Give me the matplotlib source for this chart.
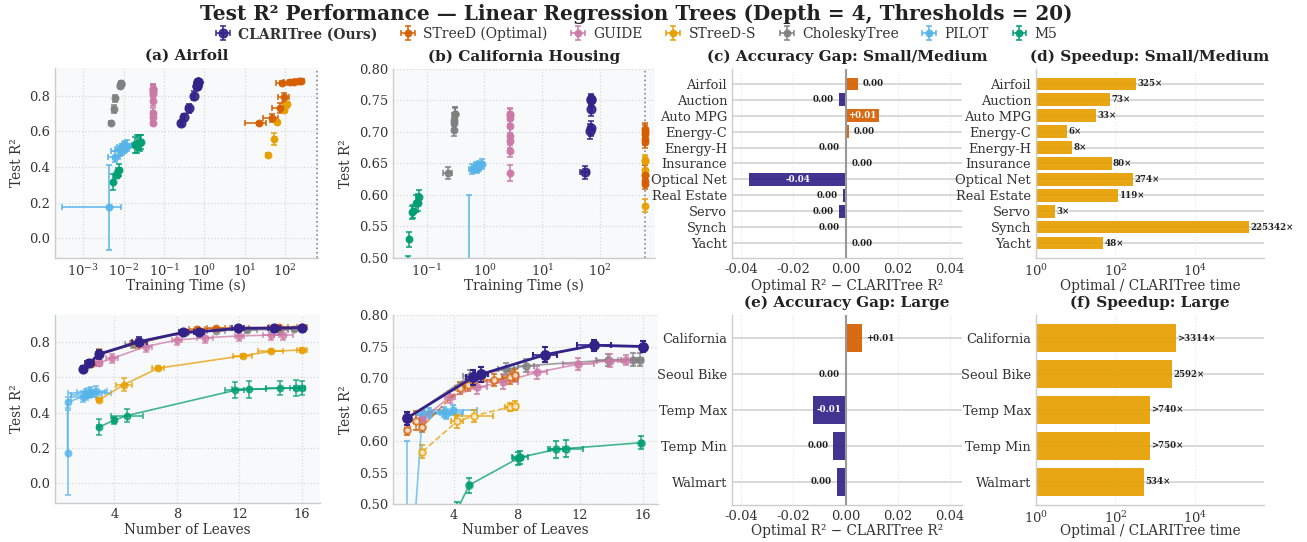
import matplotlib
matplotlib.use("Agg")
import matplotlib.pyplot as plt
import numpy as np
from matplotlib.ticker import FormatStrFormatter, LogLocator, NullLocator

plt.rcParams['font.family'] = ['DejaVu Serif']
plt.rcParams['mathtext.fontset'] = 'dejavuserif'

# ---------------- data ----------------
METHODS = ["CLARITree (Ours)", "STreeD (Optimal)", "GUIDE", "STreeD-S", "CholeskyTree", "PILOT", "M5"]
COLORS = ["#332288", "#D55E00", "#CC79A7", "#E69F00", "#808080", "#56B4E9", "#009E73"]
TIME_LIMIT = 600

# Airfoil: leaves (L, Le), test R2 (r2, r2e), training time (t, te)
af_clari = dict(L=[2, 2.4, 3, 5.6, 8.4, 9.4, 11.9, 14.2, 16],
                Le=[0.1, 0.3, 0.2, 0.5, 0.3, 0.3, 0.4, 0.4, 0.2],
                r2=[0.645, 0.678, 0.729, 0.80, 0.852, 0.855, 0.875, 0.876, 0.879],
                r2e=[0.015, 0.02, 0.025, 0.025, 0.01, 0.01, 0.008, 0.008, 0.008],
                t=[0.27, 0.31, 0.41, 0.54, 0.65, 0.66, 0.68, 0.70, 0.70],
                te=[0.02, 0.03, 0.05, 0.06, 0.05, 0.05, 0.05, 0.05, 0.05])
af_streed = dict(L=[2, 2.5, 3, 5.5, 9.3, 10.5, 12, 14.5, 16],
                 Le=[0.1, 0.3, 0.2, 0.5, 0.5, 0.6, 0.6, 0.6, 0.3],
                 r2=[0.645, 0.675, 0.73, 0.79, 0.872, 0.875, 0.878, 0.88, 0.882],
                 r2e=[0.01, 0.02, 0.03, 0.025, 0.01, 0.01, 0.01, 0.01, 0.01],
                 t=[22, 48, 75, 95, 85, 130, 170, 220, 240],
                 te=[12, 20, 28, 28, 25, 35, 40, 50, 55])
af_guide = dict(L=[2, 3, 3.85, 6, 8, 9.8, 12, 14, 14.8],
                Le=[0.1, 0.2, 0.4, 0.4, 0.3, 0.5, 0.3, 0.5, 0.6],
                r2=[0.645, 0.68, 0.705, 0.772, 0.809, 0.822, 0.832, 0.837, 0.838],
                r2e=[0.01, 0.02, 0.025, 0.03, 0.03, 0.03, 0.03, 0.03, 0.03],
                t=[0.052, 0.052, 0.052, 0.053, 0.053, 0.053, 0.053, 0.053, 0.053],
                te=[0.003] * 9)
af_streeds = dict(L=[3, 4.6, 6.8, 12.2, 14, 16],
                  Le=[0.1, 0.5, 0.4, 0.6, 0.8, 0.3],
                  r2=[0.469, 0.557, 0.65, 0.72, 0.745, 0.753],
                  r2e=[0.005, 0.035, 0.01, 0.012, 0.012, 0.012],
                  t=[38, 54, 64, 95, 105, 110],
                  te=[5, 5, 6, 15, 15, 15])
af_cholesky = dict(L=[2, 3, 5.2, 8.6, 10.5, 12.5, 14.5, 15.5],
                   Le=[0.1, 0.2, 0.5, 0.5, 0.6, 0.6, 0.6, 0.4],
                   r2=[0.645, 0.725, 0.785, 0.855, 0.862, 0.866, 0.868, 0.87],
                   r2e=[0.012, 0.02, 0.02, 0.012, 0.01, 0.01, 0.01, 0.01],
                   t=[0.0048, 0.0057, 0.0062, 0.0080, 0.0083, 0.0085, 0.0086, 0.0087],
                   te=[0.0004, 0.0005, 0.0005, 0.0005, 0.0005, 0.0005, 0.0005, 0.0005])
af_pilot = dict(L=[1, 1, 2.0, 2.2, 2.4, 2.5, 2.8],
                Le=[0, 0, 0.8, 1.0, 1.4, 0.9, 0.7],
                r2=[0.174, 0.458, 0.49, 0.50, 0.51, 0.515, 0.52],
                r2e=[0.24, 0.03, 0.03, 0.03, 0.03, 0.03, 0.03],
                t=[0.0044, 0.006, 0.008, 0.009, 0.010, 0.011, 0.012],
                te=[0.0041, 0.002, 0.003, 0.003, 0.003, 0.003, 0.003])
af_m5 = dict(L=[3, 4, 4.8, 11.7, 12.6, 14.6, 15.6, 16],
             Le=[0.1, 0.1, 1.0, 0.6, 1.1, 0.9, 0.4, 0.2],
             r2=[0.318, 0.357, 0.383, 0.525, 0.53, 0.537, 0.537, 0.54],
             r2e=[0.045, 0.02, 0.035, 0.045, 0.05, 0.04, 0.045, 0.04],
             t=[0.0056, 0.0067, 0.0075, 0.019, 0.021, 0.024, 0.026, 0.027],
             te=[0.0005, 0.0008, 0.001, 0.003, 0.003, 0.003, 0.003, 0.003])

# California Housing
ca_clari = dict(L=[1, 5.2, 5.75, 9.8, 12.9, 16],
                Le=[0.1, 0.4, 0.4, 0.75, 1.1, 0.2],
                r2=[0.636, 0.701, 0.706, 0.737, 0.752, 0.75],
                r2e=[0.01, 0.012, 0.012, 0.012, 0.009, 0.009],
                t=[55, 68, 70, 70, 70, 70],
                te=[10, 3, 3, 3, 3, 3])
ca_streed = dict(L=[1, 1.6, 2, 4.4, 4.9, 6.55, 7.55, 7.9],
                 Le=[0.1, 0.6, 0.1, 0.3, 0.3, 0.7, 0.5, 0.2],
                 r2=[0.617, 0.632, 0.623, 0.684, 0.689, 0.697, 0.701, 0.705],
                 r2e=[0.008, 0.015, 0.008, 0.01, 0.01, 0.01, 0.01, 0.01],
                 t=[TIME_LIMIT] * 8,
                 te=[0] * 8)
ca_guide = dict(L=[2, 3.75, 5.5, 7.1, 9.3, 11.9, 13.9, 14.9],
                Le=[0.1, 0.3, 0.6, 1.0, 0.6, 1.0, 0.8, 0.5],
                r2=[0.635, 0.670, 0.685, 0.694, 0.709, 0.722, 0.7275, 0.728],
                r2e=[0.012, 0.01, 0.01, 0.012, 0.01, 0.01, 0.01, 0.008],
                t=[2.8] * 8,
                te=[0.1] * 8)
ca_streeds = dict(L=[2, 4.2, 5.3, 7.55, 7.9],
                  Le=[0.1, 0.4, 1.2, 0.3, 0.2],
                  r2=[0.583, 0.631, 0.64, 0.654, 0.656],
                  r2e=[0.01, 0.01, 0.01, 0.007, 0.007],
                  t=[TIME_LIMIT] * 5,
                  te=[0] * 5)
ca_cholesky = dict(L=[1, 5, 7.33, 8.6, 13.8, 15.35, 15.8],
                   Le=[0.1, 0.4, 0.5, 0.5, 0.8, 0.4, 0.2],
                   r2=[0.635, 0.703, 0.714, 0.7195, 0.7285, 0.729, 0.729],
                   r2e=[0.01, 0.01, 0.01, 0.01, 0.01, 0.01, 0.01],
                   t=[0.23, 0.30, 0.30, 0.30, 0.31, 0.31, 0.31],
                   te=[0.04, 0.01, 0.01, 0.01, 0.01, 0.01, 0.01])
ca_pilot = dict(L=[1, 2, 2.4, 3.4, 3.5, 3.95],
                Le=[0, 0.4, 0.7, 1.2, 1.0, 1.5],
                r2=[0.29, 0.641, 0.644, 0.6466, 0.643, 0.649],
                r2e=[0.31, 0.008, 0.008, 0.008, 0.008, 0.008],
                t=[0.55, 0.6, 0.7, 0.8, 0.75, 0.9],
                te=[0.0, 0.05, 0.05, 0.06, 0.06, 0.06])
ca_m5 = dict(L=[4.2, 4.97, 8.07, 8.2, 10.5, 11.1, 15.9],
             Le=[0.1, 0.1, 0.3, 0.5, 0.4, 1.1, 0.1],
             r2=[0.490, 0.530, 0.5725, 0.574, 0.5868, 0.588, 0.5973],
             r2e=[0.013, 0.012, 0.01, 0.01, 0.013, 0.014, 0.01],
             t=[0.048, 0.05, 0.056, 0.058, 0.065, 0.07, 0.072],
             te=[0.002, 0.002, 0.003, 0.003, 0.003, 0.003, 0.003])

# Accuracy gap / speedup
small_datasets = ["Airfoil", "Auction", "Auto MPG", "Energy-C", "Energy-H", "Insurance",
                  "Optical Net", "Real Estate", "Servo", "Synch", "Yacht"]
small_gap = [0.0047, -0.0026, 0.0127, 0.0012, -0.0004, 0.0003, -0.0369, -0.0011, -0.0027, -0.0004, 0.0003]
small_speedup = [325, 73, 33, 6, 8, 80, 274, 119, 3, 225342, 48]
small_lower_bound = [False] * 11

large_datasets = ["California", "Seoul Bike", "Temp Max", "Temp Min", "Walmart"]
large_gap = [0.0061, -0.0003, -0.0125, -0.0048, -0.0033]
large_speedup = [3314, 2592, 740, 750, 534]
large_lower_bound = [True, False, True, True, False]

AF = [af_clari, af_streed, af_guide, af_streeds, af_cholesky, af_pilot, af_m5]
CA = [ca_clari, ca_streed, ca_guide, ca_streeds, ca_cholesky, ca_pilot, ca_m5]
CA_TIMEOUT = [False, True, False, True, False, False, False]

# ---------------- layout ----------------
W, H = 1307, 542
fig = plt.figure(figsize=(W / 100, H / 100), dpi=100)


def ax_px(l, t, r, b):
    return fig.add_axes([l / W, 1 - b / H, (r - l) / W, (b - t) / H])


TICK_FS = 9.4
LABEL_FS = 9.8
TITLE_FS = 11
TXT = '#333333'


def base_style(ax, face):
    ax.set_facecolor(face)
    for s in ['top', 'right']:
        ax.spines[s].set_visible(False)
    for s in ['left', 'bottom']:
        ax.spines[s].set_color('#cccccc')
        ax.spines[s].set_linewidth(1.0)
    ax.tick_params(length=0, labelsize=TICK_FS, colors=TXT, pad=3.5)


def scatter_style(ax):
    base_style(ax, '#f8f9fb')
    ax.grid(True, which='major', ls=':', color='#d8d8d8', lw=0.9)
    ax.set_axisbelow(True)


def set_labels(ax, xl, yl=None, label_top_px=21):
    ax.set_xlabel(xl, fontsize=LABEL_FS, color=TXT)
    h_px = ax.get_position().height * H
    ax.xaxis.set_label_coords(0.5, -label_top_px / h_px)
    if yl:
        ax.set_ylabel(yl, fontsize=LABEL_FS, color=TXT, labelpad=4)


order = [6, 5, 4, 3, 2, 1, 0]

# --- (a) Airfoil: time ---
ax_a = ax_px(55, 68, 318, 258)
scatter_style(ax_a)
handles = {}
for i in order:
    d = AF[i]
    big = i == 0
    h = ax_a.errorbar(d['t'], d['r2'], xerr=d['te'], yerr=d['r2e'], fmt='o', color=COLORS[i],
                      ms=6.3 if big else 4.7, capsize=2.5, elinewidth=1.2, capthick=1.2,
                      alpha=0.9, zorder=5 if big else 3)
    handles[i] = h
ax_a.axvline(TIME_LIMIT, color='#888888', ls=':', lw=1.2)
ax_a.set_xscale('log')
ax_a.set_xlim(2e-4, 650)
ax_a.set_ylim(-0.11, 0.955)
ax_a.set_yticks([0.0, 0.2, 0.4, 0.6, 0.8])
ax_a.yaxis.set_major_formatter(FormatStrFormatter('%.1f'))
ax_a.xaxis.set_major_locator(LogLocator(base=10, numticks=20))
ax_a.xaxis.set_minor_locator(NullLocator())
set_labels(ax_a, 'Training Time (s)', 'Test R²')
ax_a.set_title('(a) Airfoil', fontsize=TITLE_FS, fontweight='bold', color='#222222', pad=6)

# --- (b) California: time ---
ax_b = ax_px(393, 69, 655, 258)
scatter_style(ax_b)
for i in order:
    d = CA[i]
    big = i == 0
    ax_b.errorbar(d['t'], d['r2'], xerr=d['te'], yerr=d['r2e'], fmt='o', color=COLORS[i],
                  ms=6.3 if big else 4.7, capsize=2.5, elinewidth=1.2, capthick=1.2,
                  alpha=0.9, zorder=5 if big else 3)
ax_b.axvline(TIME_LIMIT, color='#888888', ls=':', lw=1.2)
ax_b.set_xscale('log')
ax_b.set_xlim(0.026, 900)
ax_b.set_ylim(0.5, 0.8)
ax_b.set_yticks([0.50, 0.55, 0.60, 0.65, 0.70, 0.75, 0.80])
ax_b.yaxis.set_major_formatter(FormatStrFormatter('%.2f'))
ax_b.xaxis.set_major_locator(LogLocator(base=10, numticks=20))
ax_b.xaxis.set_minor_locator(NullLocator())
set_labels(ax_b, 'Training Time (s)', 'Test R²')
ax_b.set_title('(b) California Housing', fontsize=TITLE_FS, fontweight='bold', color='#222222', pad=6)

# --- bottom: leaves ---
ax_a2 = ax_px(55, 315, 320, 503)
scatter_style(ax_a2)
for i in order:
    d = AF[i]
    big = i == 0
    ax_a2.errorbar(d['L'], d['r2'], xerr=d['Le'], yerr=d['r2e'], fmt='-o', color=COLORS[i],
                   ms=6.3 if big else 4.7, lw=2.0 if big else 1.2, capsize=2.5, elinewidth=1.2,
                   capthick=1.2, alpha=1.0 if big else 0.75, zorder=5 if big else 3)
ax_a2.set_xlim(0.2, 17.15)
ax_a2.set_ylim(-0.11, 0.95)
ax_a2.set_xticks([4, 8, 12, 16])
ax_a2.set_yticks([0.0, 0.2, 0.4, 0.6, 0.8])
ax_a2.yaxis.set_major_formatter(FormatStrFormatter('%.1f'))
set_labels(ax_a2, 'Number of Leaves', 'Test R²', label_top_px=20)

ax_b2 = ax_px(393, 315, 658, 504)
scatter_style(ax_b2)
for i in order:
    d = CA[i]
    big = i == 0
    to = CA_TIMEOUT[i]
    ax_b2.errorbar(d['L'], d['r2'], xerr=d['Le'], yerr=d['r2e'], fmt='--o' if to else '-o',
                   color=COLORS[i], mfc='white' if to else COLORS[i], mew=1.5,
                   ms=6.3 if big else 4.7, lw=2.0 if big else 1.2, capsize=2.5, elinewidth=1.2,
                   capthick=1.2, alpha=1.0 if big else 0.75, zorder=5 if big else 3)
ax_b2.set_xlim(0.14, 16.95)
ax_b2.set_ylim(0.5, 0.8)
ax_b2.set_xticks([4, 8, 12, 16])
ax_b2.set_yticks([0.50, 0.55, 0.60, 0.65, 0.70, 0.75, 0.80])
ax_b2.yaxis.set_major_formatter(FormatStrFormatter('%.2f'))
set_labels(ax_b2, 'Number of Leaves', 'Test R²', label_top_px=19)

VAL_FS = 6.2


# --- gap panels ---
def gap_panel(ax, names, vals, title, ltop):
    base_style(ax, 'white')
    y = np.arange(len(names))
    cols = [COLORS[1] if v > 0 else COLORS[0] for v in vals]
    ax.barh(y, vals, height=0.8, color=cols, alpha=0.92, zorder=2)
    ax.axvline(0, color='#999999', lw=1.5, zorder=3)
    ax.set_yticks(y)
    ax.set_yticklabels(names)
    ax.invert_yaxis()
    ax.set_xlim(-0.0435, 0.0445)
    ax.set_xticks([-0.04, -0.02, 0.0, 0.02, 0.04])
    ax.xaxis.set_major_formatter(FormatStrFormatter('%.2f'))
    ax.yaxis.grid(True, color='#d6d6d6', lw=1.3, ls='-')
    ax.xaxis.grid(True, color='#e6e6e6', lw=0.8, ls=':')
    ax.set_axisbelow(True)
    for yi, v in zip(y, vals):
        s = f"{v:+.2f}"
        if s in ('+0.00', '-0.00'):
            s = '0.00'
        if abs(v) >= 0.01:
            ax.text(v / 2, yi, s, ha='center', va='center', color='white', fontsize=VAL_FS,
                    fontweight='bold', zorder=4)
        else:
            ax.annotate(s, (v, yi), xytext=(3.5 if v >= 0 else -3.5, 0), textcoords='offset points',
                        ha='left' if v >= 0 else 'right', va='center', color='#222222',
                        fontsize=VAL_FS, fontweight='bold', zorder=4)
    set_labels(ax, 'Optimal R² − CLARITree R²', label_top_px=ltop)
    ax.set_title(title, fontsize=TITLE_FS, fontweight='bold', color='#222222', pad=6)


def speed_panel(ax, names, vals, lb, title, ltop):
    base_style(ax, 'white')
    y = np.arange(len(names))
    ax.barh(y, vals, height=0.8, color=COLORS[3], alpha=0.92, zorder=2)
    ax.set_xscale('log')
    ax.set_yticks(y)
    ax.set_yticklabels(names)
    ax.invert_yaxis()
    ax.set_xlim(1, 5.5e5)
    ax.set_xticks([1, 1e2, 1e4])
    ax.xaxis.set_minor_locator(NullLocator())
    ax.yaxis.grid(True, color='#d6d6d6', lw=1.3, ls='-')
    ax.xaxis.grid(True, color='#e6e6e6', lw=0.8, ls=':')
    ax.set_axisbelow(True)
    for yi, v, b in zip(y, vals, lb):
        s = ('>' if b else '') + f"{v}×"
        ax.annotate(s, (v, yi), xytext=(1, 0), textcoords='offset points', ha='left', va='center',
                    color='#222222', fontsize=VAL_FS, fontweight='bold', zorder=4)
    set_labels(ax, 'Optimal / CLARITree time', label_top_px=ltop)
    ax.set_title(title, fontsize=TITLE_FS, fontweight='bold', color='#222222', pad=6)


ax_c = ax_px(732, 69, 962, 258)
gap_panel(ax_c, small_datasets, small_gap, '(c) Accuracy Gap: Small/Medium', 21)
ax_d = ax_px(1036, 69, 1264, 258)
speed_panel(ax_d, small_datasets, small_speedup, small_lower_bound, '(d) Speedup: Small/Medium', 21)
ax_e = ax_px(732, 315, 962, 505)
gap_panel(ax_e, large_datasets, large_gap, '(e) Accuracy Gap: Large', 19)
ax_f = ax_px(1036, 315, 1264, 505)
speed_panel(ax_f, large_datasets, large_speedup, large_lower_bound, '(f) Speedup: Large', 19)

# --- title and legend ---
fig.text(0.487, 1 - 14 / H, 'Test R² Performance — Linear Regression Trees (Depth = 4, Thresholds = 20)',
         ha='center', va='center', fontsize=14.4, fontweight='bold', color='#222222')
leg = fig.legend([handles[i] for i in range(7)], METHODS, loc='center',
                 bbox_to_anchor=(636 / W, 1 - 34 / H), ncol=7, frameon=False, fontsize=10,
                 handlelength=1.2, handletextpad=0.5, columnspacing=1.6, labelcolor=TXT)
leg.get_texts()[0].set_fontweight('bold')

fig.savefig('out.png', dpi=100)
